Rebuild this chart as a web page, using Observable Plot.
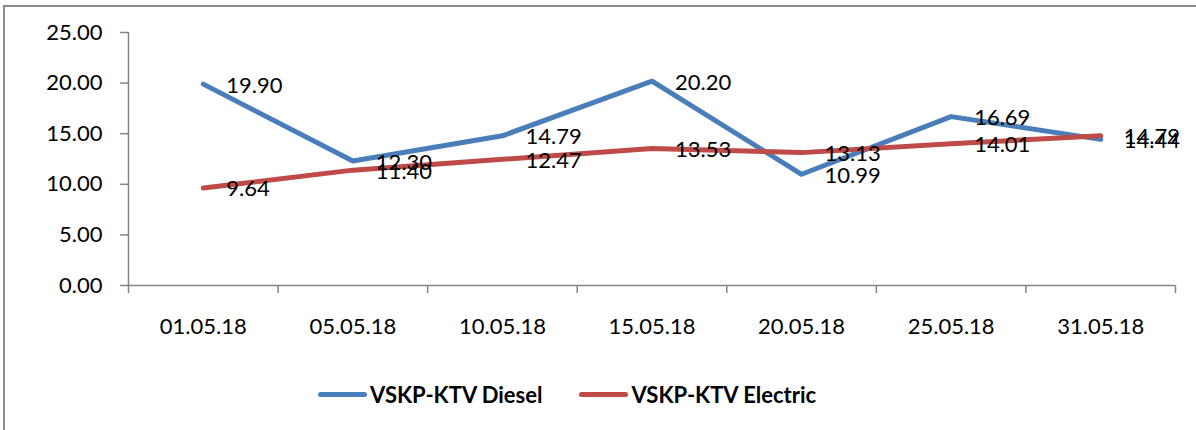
<!DOCTYPE html>
<html>
<head>
<meta charset="utf-8">
<script src="https://cdn.jsdelivr.net/npm/d3@7"></script>
<script src="https://cdn.jsdelivr.net/npm/@observablehq/plot@0.6"></script>
<style>
  html, body { margin: 0; padding: 0; background: #fff; overflow: hidden; }
  #wrap { position: relative; width: 1196px; height: 430px; overflow: hidden; }
  #chart { position: absolute; left: 0; top: 0; }
  #frame { position: absolute; left: 3px; top: 5px; width: 1300px; height: 500px; border: 2px solid #8a8a8a; box-sizing: border-box; pointer-events: none; }
  #legend { position: absolute; left: 318px; top: 378px; height: 32px; display: flex; align-items: center; font-family: Lato, sans-serif; font-weight: bold; font-size: 22px; color: #000; }
  .item { display: flex; align-items: center; margin-right: 37px; }
  .swatch { width: 49px; height: 5px; border-radius: 3px; margin-right: 3px; }
</style>
</head>
<body>
<div id="wrap">
  <div id="chart"></div>
  <div id="legend"></div>
  <div id="frame"></div>
</div>
<script>
const categories = ["01.05.18", "05.05.18", "10.05.18", "15.05.18", "20.05.18", "25.05.18", "31.05.18"];
const diesel = [19.90, 12.30, 14.79, 20.20, 10.99, 16.69, 14.44];
const electric = [9.64, 11.40, 12.47, 13.53, 13.13, 14.01, 14.79];
const seriesNames = ["VSKP-KTV Diesel", "VSKP-KTV Electric"];
const colors = ["#4A7EBB", "#BE4B48"];
const yTicks = [0, 5, 10, 15, 20, 25];

const rows = [];
[diesel, electric].forEach((vals, s) => {
  vals.forEach((v, i) => rows.push({series: seriesNames[s], i: i + 0.5, v}));
});
const boundaries = d3.range(categories.length + 1);
const centers = categories.map((c, i) => i + 0.5);
const axisGray = "#868686";

const chart = Plot.plot({
  width: 1196,
  height: 360,
  marginLeft: 128,
  marginRight: 21,
  marginTop: 32,
  marginBottom: 75,
  style: {fontFamily: "Lato, sans-serif", fontSize: "22px", background: "transparent", color: "#000"},
  x: {type: "linear", domain: [0, categories.length]},
  y: {domain: [0, 25]},
  color: {domain: seriesNames, range: colors},
  marks: [
    Plot.ruleX([0], {stroke: axisGray, strokeWidth: 1.5}),
    Plot.ruleY([0], {stroke: axisGray, strokeWidth: 1.5}),
    Plot.axisY({ticks: yTicks, tickFormat: d => d.toFixed(2), tickSize: 8, tickPadding: 18, stroke: axisGray, strokeWidth: 1.5, fill: "#000", label: null}),
    Plot.axisX({ticks: boundaries, tickFormat: () => "", tickSize: 8, stroke: axisGray, strokeWidth: 1.5, label: null}),
    Plot.axisX({ticks: centers, tickFormat: d => categories[Math.round(d - 0.5)], tickSize: 0, tickPadding: 33, fill: "#000", label: null}),
    Plot.line(rows, {x: "i", y: "v", z: "series", stroke: "series", strokeWidth: 5, strokeLinejoin: "round", strokeLinecap: "round"}),
    Plot.text(rows, {x: "i", y: "v", text: d => d.v.toFixed(2), textAnchor: "start", dx: 23, dy: 1.5, fill: "#000", fontSize: 22})
  ]
});
document.getElementById("chart").appendChild(chart);

const legend = document.getElementById("legend");
seriesNames.forEach((name, s) => {
  const item = document.createElement("div");
  item.className = "item";
  const sw = document.createElement("div");
  sw.className = "swatch";
  sw.style.background = colors[s];
  const label = document.createElement("span");
  label.textContent = name;
  item.appendChild(sw);
  item.appendChild(label);
  legend.appendChild(item);
});
</script>
</body>
</html>
